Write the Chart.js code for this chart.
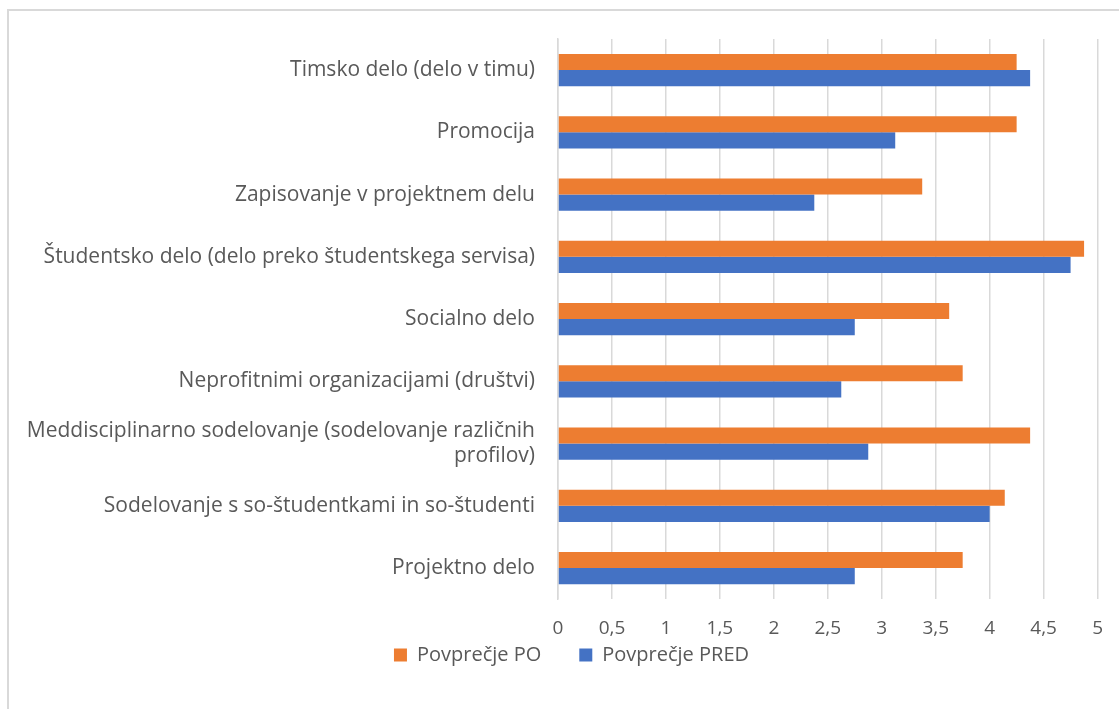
<!DOCTYPE html>
<html>
<head>
  <title>Povprečje PRED / PO</title>
  <style>
    body {
      margin: 0;
      padding: 0;
      background-color: #ffffff;
      overflow: hidden;
    }
    .frame {
      position: absolute;
      left: 7px;
      top: 9px;
      width: 1200px;
      height: 800px;
      border: 2px solid #d9d9d9;
      box-sizing: border-box;
    }
    #chart_box {
      position: absolute;
      left: 0;
      top: 0;
      width: 1112px;
      height: 730px;
    }
  </style>
  <script src="https://cdn.jsdelivr.net/npm/chart.js"></script>
</head>
<body>
  <div class="frame">
    <div id="chart_box">
      <canvas id="bar_chart"></canvas>
    </div>
  </div>

  <script>
    // kategorije od zgoraj navzdol
    const categories = [
      'Timsko delo (delo v timu)',
      'Promocija',
      'Zapisovanje v projektnem delu',
      'Študentsko delo (delo preko študentskega servisa)',
      'Socialno delo',
      'Neprofitnimi organizacijami (društvi)',
      ['Meddisciplinarno sodelovanje (sodelovanje različnih', 'profilov)'],
      'Sodelovanje s so-študentkami in so-študenti',
      'Projektno delo'
    ];
    const povprecjePO = [4.25, 4.25, 3.375, 4.875, 3.625, 3.75, 4.375, 4.14, 3.75];
    const povprecjePRED = [4.375, 3.125, 2.375, 4.75, 2.75, 2.625, 2.875, 4.0, 2.75];
    const xTicks = [0, 0.5, 1, 1.5, 2, 2.5, 3, 3.5, 4, 4.5, 5];

    const fontName = '"Open Sans", sans-serif';
    const textColor = '#595959';
    const gridColor = '#d9d9d9';

    // legenda ima velik razmik med elementi, zato jo po postavitvi premaknemo navzgor
    const legendShift = {
      id: 'legendShift',
      afterLayout: function (chart) {
        if (chart.legend) {
          chart.legend.top -= 51;
          chart.legend.bottom -= 51;
        }
      }
    };

    var barChart = new Chart(document.getElementById('bar_chart'), {
      type: 'bar',
      data: {
        labels: categories,
        datasets: [{
          label: 'Povprečje PO',
          data: povprecjePO,
          backgroundColor: '#ED7D31'
        }, {
          label: 'Povprečje PRED',
          data: povprecjePRED,
          backgroundColor: '#4472C4'
        }]
      },
      plugins: [legendShift],
      options: {
        indexAxis: 'y',
        responsive: true,
        maintainAspectRatio: false,
        animation: false,
        categoryPercentage: 0.52,
        barPercentage: 1.0,
        layout: {
          padding: { top: 28, right: 5, bottom: 15, left: 18 }
        },
        plugins: {
          tooltip: { enabled: false },
          legend: {
            position: 'bottom',
            labels: {
              color: textColor,
              font: { family: fontName, size: 20 },
              boxWidth: 13,
              boxHeight: 13,
              padding: 38
            }
          }
        },
        scales: {
          x: {
            min: 0,
            max: 5,
            afterBuildTicks: function (scale) {
              scale.ticks = xTicks.map(v => ({ value: v }));
            },
            ticks: {
              color: textColor,
              font: { family: fontName, size: 19 },
              padding: 18,
              maxRotation: 0,
              callback: function (value) {
                return String(value).replace('.', ',');
              }
            },
            grid: {
              color: gridColor,
              lineWidth: 1.5,
              drawTicks: false
            },
            border: { display: false }
          },
          y: {
            afterFit: function (scale) {
              scale.width = 531;
            },
            ticks: {
              color: textColor,
              font: { family: fontName, size: 21 },
              padding: 15
            },
            grid: { display: false },
            border: { color: gridColor, width: 1.5 }
          }
        }
      }
    });
  </script>
</body>
</html>
